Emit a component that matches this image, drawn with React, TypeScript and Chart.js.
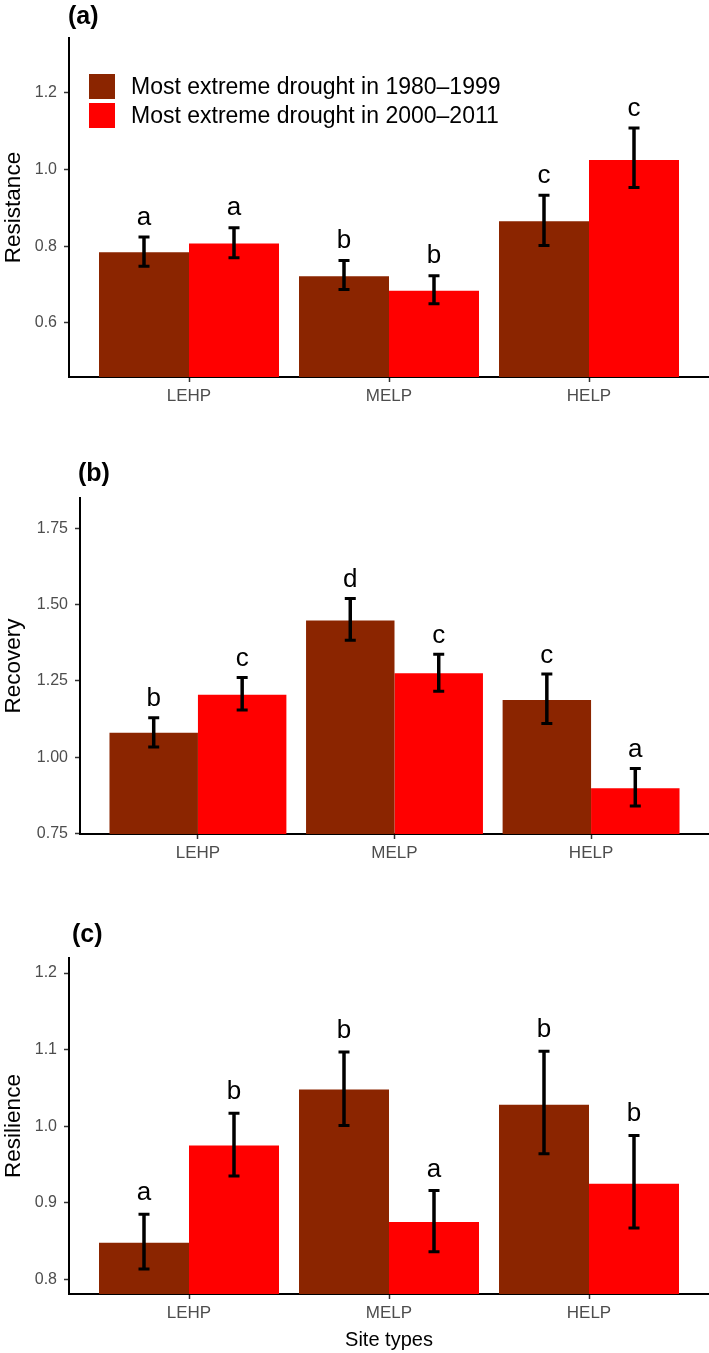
import React, { useEffect, useRef } from 'react';
import { Chart, registerables } from 'chart.js';

Chart.register(...registerables);

const FONT = '"Liberation Sans", Arial, Helvetica, sans-serif';

// ---------- data ----------
const siteTypes = ['LEHP', 'MELP', 'HELP'];
const seriesLabels = ['Most extreme drought in 1980\u20131999', 'Most extreme drought in 2000\u20132011'];
const seriesColors = ['#8B2500', '#FF0000'];

// (a) Resistance
const resistance1980 = [0.784, 0.722, 0.865];
const resistance1980Lo = [0.748, 0.687, 0.802];
const resistance1980Hi = [0.824, 0.763, 0.933];
const resistance2000 = [0.807, 0.684, 1.025];
const resistance2000Lo = [0.77, 0.65, 0.953];
const resistance2000Hi = [0.848, 0.723, 1.108];
const resistanceLetters1980 = ['a', 'b', 'c'];
const resistanceLetters2000 = ['a', 'b', 'c'];
const resistanceTicks = [0.6, 0.8, 1.0, 1.2];

// (b) Recovery
const recovery1980 = [1.08, 1.448, 1.187];
const recovery1980Lo = [1.033, 1.383, 1.11];
const recovery1980Hi = [1.129, 1.52, 1.272];
const recovery2000 = [1.204, 1.275, 0.898];
const recovery2000Lo = [1.154, 1.216, 0.84];
const recovery2000Hi = [1.261, 1.337, 0.963];
const recoveryLetters1980 = ['b', 'd', 'c'];
const recoveryLetters2000 = ['c', 'c', 'a'];
const recoveryTicks = [0.75, 1.0, 1.25, 1.5, 1.75];

// (c) Resilience
const resilience1980 = [0.848, 1.048, 1.028];
const resilience1980Lo = [0.8135, 1.001, 0.964];
const resilience1980Hi = [0.885, 1.097, 1.098];
const resilience2000 = [0.975, 0.875, 0.925];
const resilience2000Lo = [0.935, 0.836, 0.867];
const resilience2000Hi = [1.017, 0.916, 0.988];
const resilienceLetters1980 = ['a', 'b', 'b'];
const resilienceLetters2000 = ['b', 'a', 'b'];
const resilienceTicks = [0.8, 0.9, 1.0, 1.1, 1.2];

// ---------- plugins ----------
const errorBarPlugin = {
  id: 'errorBars',
  afterDatasetsDraw(chart: any, _args: any, opts: any) {
    const { ctx } = chart;
    const yScale = chart.scales.y;
    const gap = (opts && opts.letterGap) || 12;
    ctx.save();
    chart.data.datasets.forEach((ds: any, di: number) => {
      const meta = chart.getDatasetMeta(di);
      meta.data.forEach((el: any, i: number) => {
        const x = el.x;
        const yHi = yScale.getPixelForValue(ds.errHi[i]);
        const yLo = yScale.getPixelForValue(ds.errLo[i]);
        ctx.strokeStyle = '#000';
        ctx.lineCap = 'butt';
        ctx.lineWidth = 3.5;
        ctx.beginPath();
        ctx.moveTo(x, yHi);
        ctx.lineTo(x, yLo);
        ctx.stroke();
        ctx.lineWidth = 3;
        ctx.beginPath();
        ctx.moveTo(x - 5.5, yHi);
        ctx.lineTo(x + 5.5, yHi);
        ctx.moveTo(x - 5.5, yLo);
        ctx.lineTo(x + 5.5, yLo);
        ctx.stroke();
        ctx.fillStyle = '#000';
        ctx.font = `26px ${FONT}`;
        ctx.textAlign = 'center';
        ctx.textBaseline = 'alphabetic';
        ctx.fillText(ds.letters[i], x, yHi - gap);
      });
    });
    ctx.restore();
  },
};

const panelTagPlugin = {
  id: 'panelTag',
  afterDraw(chart: any, _args: any, opts: any) {
    if (!opts || !opts.text) return;
    const { ctx } = chart;
    ctx.save();
    ctx.fillStyle = '#000';
    ctx.font = `bold 25px ${FONT}`;
    ctx.textAlign = 'left';
    ctx.textBaseline = 'middle';
    ctx.fillText(opts.text, opts.x, opts.y);
    ctx.restore();
  },
};

const insideLegendPlugin = {
  id: 'insideLegend',
  afterDraw(chart: any, _args: any, opts: any) {
    if (!opts || !opts.show) return;
    const { ctx } = chart;
    ctx.save();
    chart.data.datasets.forEach((ds: any, i: number) => {
      const top = opts.y + i * opts.step;
      ctx.fillStyle = ds.backgroundColor;
      ctx.fillRect(opts.x, top, opts.boxW, opts.boxH);
      ctx.fillStyle = '#000';
      ctx.font = `23px ${FONT}`;
      ctx.textAlign = 'left';
      ctx.textBaseline = 'middle';
      ctx.fillText(ds.label, opts.textX, top + opts.boxH / 2 + 1);
    });
    ctx.restore();
  },
};

// ---------- panel configs ----------
type PanelCfg = {
  tag: string;
  tagX: number;
  tagY: number;
  height: number;
  padTop: number;
  xAxisH: number;
  yAxisW: number;
  letterGap: number;
  yTitle: string;
  yMin: number;
  yMax: number;
  yTicks: number[];
  decimals: number;
  s1: number[];
  s1Lo: number[];
  s1Hi: number[];
  s1Letters: string[];
  s2: number[];
  s2Lo: number[];
  s2Hi: number[];
  s2Letters: string[];
  legend: boolean;
  xTitle?: string;
};

const panels: PanelCfg[] = [
  {
    tag: '(a)', tagX: 68, tagY: 17, height: 420, padTop: 38, xAxisH: 43, yAxisW: 69, letterGap: 12.5,
    yTitle: 'Resistance', yMin: 0.459, yMax: 1.343, yTicks: resistanceTicks, decimals: 1,
    s1: resistance1980, s1Lo: resistance1980Lo, s1Hi: resistance1980Hi, s1Letters: resistanceLetters1980,
    s2: resistance2000, s2Lo: resistance2000Lo, s2Hi: resistance2000Hi, s2Letters: resistanceLetters2000,
    legend: true,
  },
  {
    tag: '(b)', tagX: 78, tagY: 54, height: 450, padTop: 78, xAxisH: 36, yAxisW: 80, letterGap: 11.5,
    yTitle: 'Recovery', yMin: 0.748, yMax: 1.849, yTicks: recoveryTicks, decimals: 2,
    s1: recovery1980, s1Lo: recovery1980Lo, s1Hi: recovery1980Hi, s1Letters: recoveryLetters1980,
    s2: recovery2000, s2Lo: recovery2000Lo, s2Hi: recovery2000Hi, s2Letters: recoveryLetters2000,
    legend: false,
  },
  {
    tag: '(c)', tagX: 72, tagY: 65, height: 483, padTop: 88, xAxisH: 59, yAxisW: 69, letterGap: 14,
    yTitle: 'Resilience', yMin: 0.781, yMax: 1.2196, yTicks: resilienceTicks, decimals: 1,
    s1: resilience1980, s1Lo: resilience1980Lo, s1Hi: resilience1980Hi, s1Letters: resilienceLetters1980,
    s2: resilience2000, s2Lo: resilience2000Lo, s2Hi: resilience2000Hi, s2Letters: resilienceLetters2000,
    legend: false, xTitle: 'Site types',
  },
];

function buildConfig(p: PanelCfg): any {
  const mk = (vals: number[], lo: number[], hi: number[], letters: string[], idx: number) => ({
    label: seriesLabels[idx],
    data: vals.map((v, i) => ({ x: i + 1, y: v })),
    backgroundColor: seriesColors[idx],
    borderWidth: 0,
    categoryPercentage: 0.9,
    barPercentage: 1.0,
    base: p.yMin,
    clip: 0,
    errLo: lo,
    errHi: hi,
    letters,
  });
  return {
    type: 'bar',
    data: {
      datasets: [
        mk(p.s1, p.s1Lo, p.s1Hi, p.s1Letters, 0),
        mk(p.s2, p.s2Lo, p.s2Hi, p.s2Letters, 1),
      ],
    },
    options: {
      responsive: false,
      animation: false,
      devicePixelRatio: 1,
      layout: { padding: { top: p.padTop, left: 0, right: 0, bottom: 0 } },
      events: [],
      plugins: {
        legend: { display: false },
        tooltip: { enabled: false },
        title: { display: false },
        errorBars: { letterGap: p.letterGap },
        panelTag: { text: p.tag, x: p.tagX, y: p.tagY },
        insideLegend: { show: p.legend, x: 89, y: 74, boxW: 26, boxH: 25, step: 29, textX: 131 },
      },
      scales: {
        x: {
          type: 'linear',
          min: 0.4,
          max: 3.6,
          offset: false,
          afterBuildTicks: (s: any) => {
            s.ticks = siteTypes.map((_, i) => ({ value: i + 1 }));
          },
          afterFit: (s: any) => {
            s.height = p.xAxisH;
          },
          ticks: {
            autoSkip: false,
            maxRotation: 0,
            minRotation: 0,
            padding: 4,
            color: '#4D4D4D',
            font: { family: FONT, size: 17 },
            callback: (_v: any, i: number) => siteTypes[i],
          },
          grid: {
            display: true,
            offset: false,
            drawOnChartArea: false,
            drawTicks: true,
            tickLength: 5,
            tickWidth: 1.5,
            tickColor: '#333333',
          },
          border: { display: true, color: '#000', width: 2 },
          title: {
            display: !!p.xTitle,
            text: p.xTitle || '',
            color: '#000',
            font: { family: FONT, size: 20 },
            padding: { top: 0, bottom: 1 },
          },
        },
        y: {
          type: 'linear',
          min: p.yMin,
          max: p.yMax,
          afterBuildTicks: (s: any) => {
            s.ticks = p.yTicks.map((v) => ({ value: v }));
          },
          afterFit: (s: any) => {
            s.width = p.yAxisW;
          },
          ticks: {
            padding: 7,
            color: '#4D4D4D',
            font: { family: FONT, size: 16 },
            callback: (v: any) => Number(v).toFixed(p.decimals),
          },
          grid: {
            display: true,
            drawOnChartArea: false,
            drawTicks: true,
            tickLength: 5,
            tickWidth: 1.5,
            tickColor: '#333333',
          },
          border: { display: true, color: '#000', width: 2 },
          title: {
            display: true,
            text: p.yTitle,
            color: '#000',
            font: { family: FONT, size: 22.5 },
            padding: { top: 0, bottom: 0 },
          },
        },
      },
    },
    plugins: [errorBarPlugin, panelTagPlugin, insideLegendPlugin],
  };
}

function Panel({ cfg }: { cfg: PanelCfg }) {
  const ref = useRef<HTMLCanvasElement>(null);
  useEffect(() => {
    const chart = new Chart(ref.current as HTMLCanvasElement, buildConfig(cfg));
    return () => chart.destroy();
  }, [cfg]);
  return (
    <canvas
      ref={ref}
      width={709}
      height={cfg.height}
      style={{ display: 'block', width: 709, height: cfg.height }}
    />
  );
}

export default function App() {
  return (
    <div style={{ position: 'absolute', left: 0, top: 0, width: 709, height: 1353, background: '#fff' }}>
      {panels.map((p) => (
        <Panel key={p.tag} cfg={p} />
      ))}
    </div>
  );
}
